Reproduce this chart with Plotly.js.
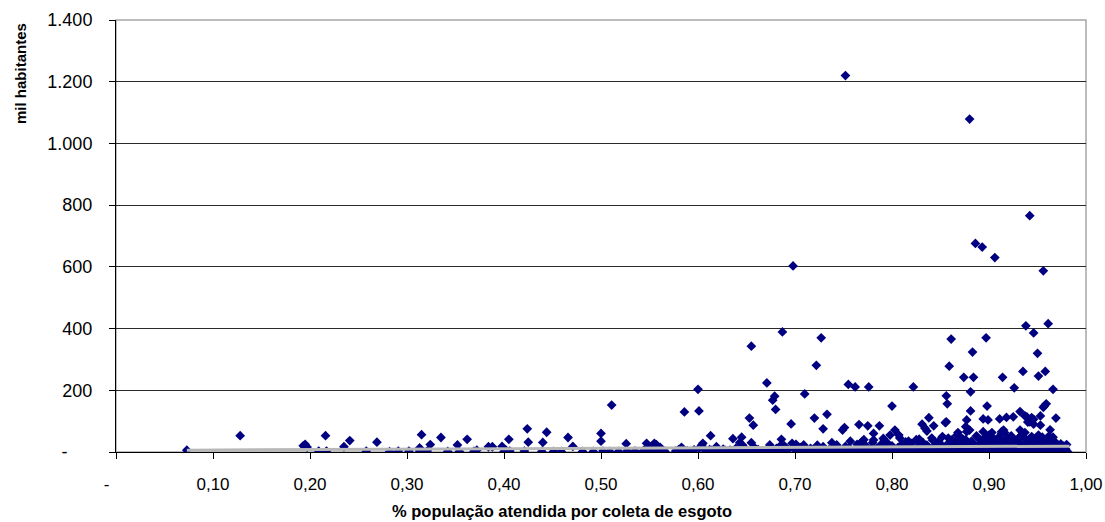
<!DOCTYPE html>
<html>
<head>
<meta charset="utf-8">
<script src="https://cdn.plot.ly/plotly-3.0.1.min.js"></script>
<style>html,body{margin:0;padding:0;background:#fff;}#chart{width:1105px;height:522px;}</style>
</head>
<body>
<div id="chart"></div>
<script>
// [% população atendida, mil habitantes]
const sparseLeft = [[0.073,6],[0.128,53],[0.193,20],[0.195,25],[0.197,16],[0.209,3],[0.216,53],[0.217,3],[0.235,17],[0.241,37],[0.258,3],[0.269,32],[0.282,1],[0.291,3],[0.302,3],[0.313,3],[0.313,13],[0.315,56],[0.321,4],[0.324,24],[0.335,47],[0.342,2],[0.352,23],[0.354,2],[0.362,41],[0.369,2],[0.372,6],[0.384,17],[0.388,17],[0.398,18],[0.400,2],[0.402,6],[0.405,41],[0.406,3],[0.421,3],[0.424,75],[0.425,32],[0.439,2],[0.440,31],[0.444,64],[0.451,2],[0.459,2],[0.466,47],[0.471,18],[0.481,2],[0.492,2],[0.500,60],[0.500,35],[0.502,3],[0.509,2],[0.511,152],[0.518,2],[0.526,27],[0.527,4],[0.535,3],[0.543,2]];

const middle = [[0.545,8],[0.547,28],[0.549,15],[0.551,4],[0.553,20],[0.555,28],[0.556,10],[0.557,24],[0.559,3],[0.561,15],[0.563,6],[0.566,2],[0.577,3],[0.580,8],[0.583,15],[0.584,2],[0.586,130],[0.589,4],[0.592,2],[0.596,7],[0.600,203],[0.601,133],[0.601,12],[0.604,23],[0.605,28],[0.607,6],[0.609,2],[0.612,8],[0.613,53],[0.614,5],[0.617,2],[0.619,17],[0.621,7],[0.624,3],[0.626,9],[0.628,5],[0.631,2],[0.633,6],[0.635,4],[0.636,43],[0.638,3],[0.639,12],[0.642,3],[0.643,30],[0.645,48],[0.646,22],[0.647,2],[0.649,10],[0.651,3],[0.653,110],[0.654,4],[0.655,343],[0.655,30],[0.657,87],[0.658,15],[0.660,5],[0.662,8],[0.665,3],[0.671,224],[0.672,8],[0.674,23],[0.676,2],[0.677,168],[0.678,3],[0.679,181],[0.680,138],[0.681,12],[0.683,7],[0.684,17],[0.685,4],[0.686,41],[0.687,389],[0.688,2],[0.689,20],[0.691,4],[0.693,8],[0.696,91],[0.697,28],[0.698,603],[0.699,10],[0.701,25],[0.702,7],[0.703,3],[0.705,2],[0.706,15],[0.708,9],[0.709,23],[0.710,188],[0.711,6],[0.713,3],[0.715,4],[0.716,12],[0.718,8],[0.720,110],[0.721,3],[0.722,281],[0.723,22],[0.725,9],[0.726,5],[0.727,370],[0.729,75],[0.729,17],[0.731,2],[0.732,6],[0.733,122],[0.735,8],[0.736,2],[0.738,30],[0.739,10],[0.740,4],[0.743,23]];

const rightHigh = [[0.749,71],[0.752,1220],[0.751,79],[0.755,219],[0.757,35],[0.762,211],[0.766,89],[0.769,34],[0.771,40],[0.776,211],[0.775,85],[0.781,60],[0.781,39],[0.787,85],[0.791,44],[0.792,36],[0.798,55],[0.800,149],[0.803,71],[0.807,55],[0.808,45],[0.817,35],[0.822,211],[0.825,40],[0.828,42],[0.831,90],[0.834,77],[0.836,68],[0.838,111],[0.841,45],[0.843,85],[0.852,50],[0.855,95],[0.856,182],[0.856,98],[0.857,156],[0.859,278],[0.861,366],[0.862,40],[0.867,55],[0.868,63],[0.873,42],[0.874,242],[0.876,82],[0.877,104],[0.877,66],[0.880,71],[0.880,1079],[0.881,195],[0.881,133],[0.883,324],[0.884,242],[0.886,676],[0.888,48],[0.893,664],[0.894,66],[0.894,107],[0.897,370],[0.898,149],[0.899,104],[0.903,63],[0.904,45],[0.906,630],[0.911,107],[0.913,60],[0.914,242],[0.913,66],[0.915,71],[0.916,63],[0.918,112],[0.922,50],[0.925,114],[0.926,208],[0.930,42],[0.932,131],[0.932,71],[0.935,261],[0.937,117],[0.937,63],[0.938,409],[0.939,114],[0.940,97],[0.942,98],[0.942,766],[0.944,111],[0.945,40],[0.946,386],[0.946,106],[0.946,90],[0.950,320],[0.951,246],[0.951,55],[0.953,117],[0.953,87],[0.956,587],[0.956,145],[0.957,149],[0.958,261],[0.959,156],[0.960,45],[0.961,416],[0.963,72],[0.966,203],[0.966,48],[0.969,110]];

const rightBottom = [[0.741,2],[0.746,4],[0.750,1],[0.753,3],[0.758,5],[0.761,2],[0.765,1],[0.770,4],[0.773,3],[0.777,2],[0.782,5],[0.785,1],[0.789,3],[0.793,2],[0.796,4],[0.801,1],[0.805,2],[0.809,5],[0.813,3],[0.818,1],[0.821,4],[0.825,2],[0.829,3],[0.833,1],[0.837,5],[0.841,2],[0.845,4],[0.849,3],[0.853,1],[0.857,2],[0.861,5],[0.865,3],[0.869,2],[0.873,1],[0.877,4],[0.881,2],[0.885,3],[0.889,5],[0.893,1],[0.897,2],[0.901,4],[0.905,3],[0.909,1],[0.913,2],[0.917,5],[0.921,3],[0.925,2],[0.929,4],[0.933,1],[0.937,3],[0.941,2],[0.945,5],[0.949,1],[0.953,4],[0.957,2],[0.961,3],[0.965,1],[0.969,2],[0.973,4],[0.977,3],[0.981,1]];

const rightLow = [[0.744,12],[0.751,9],[0.756,14],[0.763,10],[0.768,16],[0.774,8],[0.779,13],[0.784,11],[0.790,15],[0.794,9],[0.799,12],[0.806,14],[0.811,10],[0.815,16],[0.820,9],[0.826,13],[0.830,11],[0.835,15],[0.839,8],[0.844,12],[0.848,16],[0.851,10],[0.855,14],[0.859,9],[0.863,12],[0.867,15],[0.871,10],[0.875,13],[0.879,8],[0.883,16],[0.887,11],[0.891,14],[0.895,9],[0.899,12],[0.903,15],[0.907,10],[0.911,13],[0.915,8],[0.919,16],[0.923,11],[0.927,14],[0.931,9],[0.935,12],[0.939,15],[0.943,10],[0.947,13],[0.951,8],[0.955,16],[0.959,11],[0.963,14],[0.967,9],[0.971,12],[0.975,15],[0.979,10]];

const rightMid = [[0.752,18],[0.764,25],[0.773,20],[0.780,30],[0.788,22],[0.795,30],[0.800,20],[0.810,25],[0.814,33],[0.820,28],[0.827,18],[0.832,30],[0.836,22],[0.844,20],[0.848,35],[0.850,26],[0.857,25],[0.860,19],[0.864,29],[0.869,28],[0.872,22],[0.875,18],[0.878,26],[0.883,30],[0.886,20],[0.890,27],[0.891,22],[0.896,24],[0.899,35],[0.902,18],[0.905,28],[0.908,28],[0.912,22],[0.916,38],[0.918,26],[0.920,20],[0.924,29],[0.926,30],[0.929,23],[0.933,27],[0.936,21],[0.940,25],[0.943,30],[0.947,22],[0.950,28],[0.954,30],[0.957,24],[0.959,20],[0.962,27],[0.966,35],[0.968,22],[0.970,22],[0.974,26],[0.977,19],[0.980,24]];

const rightUpper = [[0.842,38],[0.858,45],[0.866,36],[0.870,50],[0.876,40],[0.882,35],[0.887,52],[0.892,38],[0.895,45],[0.900,55],[0.906,40],[0.910,48],[0.914,35],[0.919,44],[0.923,52],[0.928,38],[0.931,47],[0.934,55],[0.938,42],[0.941,36],[0.944,50],[0.948,44],[0.952,38],[0.955,48],[0.958,36],[0.962,52],[0.965,40],[0.968,33]];

// Linear trend line (endpoints)
const trendX = [0.073, 0.983];
const trendY = [6, 19];

// Axis ticks
const xTickVals = [0,0.1,0.2,0.3,0.4,0.5,0.6,0.7,0.8,0.9,1.0];
const xTickText = ['-\u00a0\u00a0\u00a0\u00a0','0,10','0,20','0,30','0,40','0,50','0,60','0,70','0,80','0,90','1,00'];
const yTickVals = [0,200,400,600,800,1000,1200,1400];
const yTickText = ['-\u00a0\u00a0\u00a0\u00a0\u00a0','200','400','600','800','1.000','1.200','1.400'];

const allPts = [].concat(sparseLeft, middle, rightHigh, rightBottom, rightLow, rightMid, rightUpper);
const pctColeta = allPts.map(p => p[0]);
const milHab = allPts.map(p => p[1]);

const FONT = 'Liberation Sans, Arial, sans-serif';

const traces = [
  {
    type: 'scatter', mode: 'markers',
    x: pctColeta, y: milHab,
    marker: {symbol: 'diamond', size: 7.5, color: '#000080', line: {width: 0}},
    hoverinfo: 'skip', showlegend: false
  },
  {
    type: 'scatter', mode: 'lines',
    x: trendX, y: trendY,
    line: {color: '#b8b8b8', width: 3},
    hoverinfo: 'skip', showlegend: false
  }
];

const layout = {
  width: 1105, height: 522,
  margin: {l: 116, r: 19, t: 20, b: 70, pad: 0},
  paper_bgcolor: '#ffffff', plot_bgcolor: '#ffffff',
  font: {family: FONT, color: '#000', size: 17},
  showlegend: false,
  xaxis: {
    range: [0, 1.0], tickmode: 'array', tickvals: xTickVals, ticktext: xTickText,
    showgrid: false, zeroline: false,
    showline: true, linecolor: '#000', linewidth: 1,
    ticks: 'outside', ticklen: 6, tickcolor: '#000', tickwidth: 1,
    tickfont: {family: FONT, size: 17, color: '#000'},
    ticklabelstandoff: 11
  },
  yaxis: {
    range: [0, 1400], tickmode: 'array', tickvals: yTickVals, ticktext: yTickText,
    showgrid: true, gridcolor: '#2a2a2a', gridwidth: 1, zeroline: false,
    showline: true, linecolor: '#000', linewidth: 1,
    ticks: 'outside', ticklen: 6, tickcolor: '#000', tickwidth: 1,
    tickfont: {family: FONT, size: 18, color: '#000'},
    ticklabelstandoff: 13
  },
  shapes: [
    {type: 'rect', xref: 'paper', yref: 'paper', x0: 0, x1: 1, y0: 0, y1: 1,
     line: {color: '#a6a6a6', width: 1.5}, layer: 'below'}
  ],
  annotations: [
    {text: '<b>mil habitantes</b>', xref: 'paper', yref: 'paper',
     x: -0.0985, y: 0.876, xanchor: 'center', yanchor: 'middle', textangle: -90,
     showarrow: false, font: {family: FONT, size: 15, color: '#000'}},
    {text: '<b>% população atendida por coleta de esgoto</b>', xref: 'paper', yref: 'paper',
     x: 0.4598, y: -0.1366, xanchor: 'center', yanchor: 'middle',
     showarrow: false, font: {family: FONT, size: 16.5, color: '#000'}}
  ]
};

Plotly.newPlot('chart', traces, layout, {displayModeBar: false, staticPlot: true});
</script>
</body>
</html>
